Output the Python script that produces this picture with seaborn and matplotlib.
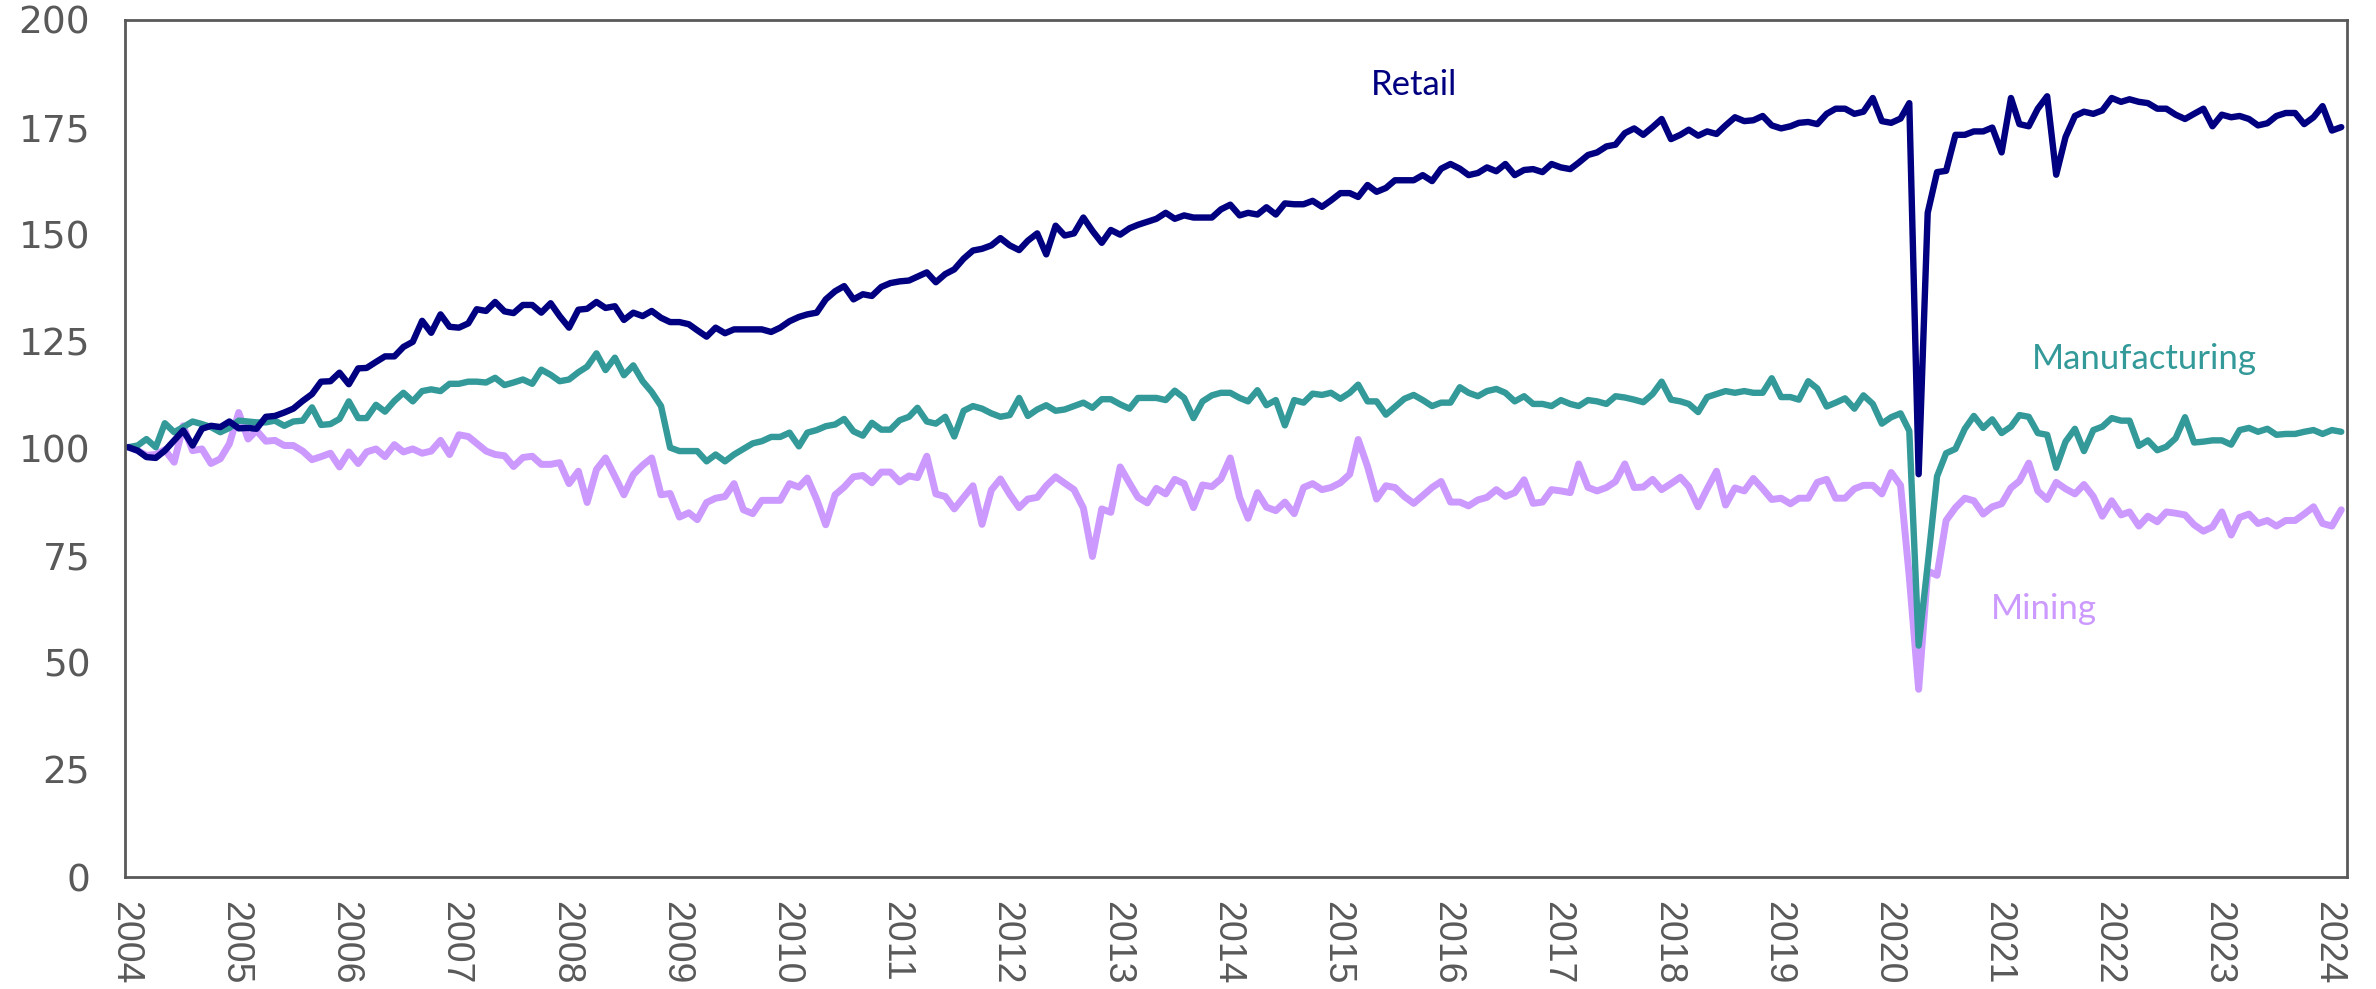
import matplotlib
matplotlib.use("Agg")
import matplotlib.pyplot as plt
import matplotlib.dates as mdates
import seaborn as sns
import pandas as pd

# monthly index values, Jan 2004 - Feb 2024
months = pd.date_range("2004-01-01", periods=242, freq="MS")

retail = [
    100.3, 99.5, 98.0, 97.8, 99.5, 101.9, 104.2, 100.7, 104.6, 105.3, 105.0, 106.3,
    104.7, 104.8, 104.6, 107.4, 107.6, 108.4, 109.3, 111.1, 112.7, 115.6, 115.7, 117.7,
    115.0, 118.7, 118.8, 120.2, 121.5, 121.5, 123.7, 124.9, 129.8, 127.0, 131.3, 128.4,
    128.2, 129.2, 132.5, 132.1, 134.2, 132.0, 131.6, 133.5, 133.5, 131.7, 133.9, 130.9,
    128.2, 132.4, 132.6, 134.2, 132.8, 133.2, 130.0, 131.7, 130.9, 132.1, 130.5, 129.5,
    129.5, 129.0, 127.6, 126.1, 128.2, 126.9, 127.8, 127.8, 127.8, 127.8, 127.2, 128.2,
    129.7, 130.7, 131.3, 131.7, 134.8, 136.7, 137.9, 134.8, 136.0, 135.6, 137.7, 138.6,
    139.0, 139.2, 140.1, 141.1, 138.8, 140.7, 141.8, 144.3, 146.2, 146.6, 147.4, 149.1,
    147.4, 146.3, 148.5, 150.2, 145.3, 152.0, 149.7, 150.2, 153.9, 150.8, 148.0, 151.0,
    149.9, 151.4, 152.2, 152.9, 153.6, 155.0, 153.6, 154.4, 153.9, 153.9, 153.9, 155.8,
    156.9, 154.4, 155.0, 154.6, 156.3, 154.6, 157.2, 157.0, 157.0, 157.8, 156.4, 157.9,
    159.6, 159.6, 158.7, 161.5, 159.9, 160.8, 162.6, 162.6, 162.6, 163.8, 162.4, 165.3,
    166.4, 165.3, 163.8, 164.3, 165.6, 164.7, 166.4, 163.8, 165.0, 165.2, 164.5, 166.4,
    165.6, 165.2, 166.7, 168.5, 169.1, 170.5, 170.9, 173.6, 174.7, 173.2, 175.0, 176.9,
    172.2, 173.2, 174.4, 173.0, 174.0, 173.4, 175.4, 177.3, 176.4, 176.6, 177.6, 175.4,
    174.7, 175.2, 176.0, 176.2, 175.7, 178.1, 179.3, 179.3, 178.1, 178.6, 181.8, 176.4,
    176.0, 177.0, 180.6, 94.0, 155.0, 164.5, 164.8, 173.2, 173.2, 174.0, 174.0, 174.9,
    169.1, 181.8, 175.7, 175.2, 179.3, 182.2, 163.9, 172.7, 177.6, 178.6, 178.1, 178.9,
    181.8, 180.9, 181.5, 180.9, 180.6, 179.3, 179.3, 177.9, 176.9, 178.1, 179.3, 175.2,
    177.9, 177.3, 177.6, 176.9, 175.4, 175.9, 177.6, 178.3, 178.3, 175.7, 177.3, 179.9,
    174.2, 175.0,
]

manufacturing = [
    100.3, 100.7, 102.2, 100.3, 105.9, 103.8, 105.0, 106.3, 105.7, 105.0, 103.8, 104.8,
    106.5, 106.3, 106.1, 106.1, 106.5, 105.3, 106.3, 106.5, 109.6, 105.5, 105.7, 106.9,
    111.0, 107.1, 107.1, 110.2, 108.6, 111.1, 113.0, 111.0, 113.4, 113.8, 113.4, 115.1,
    115.1, 115.6, 115.6, 115.4, 116.5, 114.8, 115.4, 116.1, 115.1, 118.4, 117.2, 115.7,
    116.1, 117.8, 119.1, 122.2, 118.3, 121.2, 117.1, 119.4, 115.7, 113.2, 109.9, 100.2,
    99.4, 99.4, 99.4, 97.0, 98.6, 97.0, 98.6, 99.9, 101.2, 101.7, 102.7, 102.7,
    103.7, 100.5, 103.7, 104.3, 105.2, 105.6, 106.9, 104.0, 103.0, 106.0, 104.4, 104.4,
    106.6, 107.4, 109.5, 106.3, 105.8, 107.4, 102.8, 108.8, 109.9, 109.3, 108.2, 107.4,
    107.8, 111.8, 107.6, 109.1, 110.1, 108.8, 109.1, 109.9, 110.7, 109.5, 111.5, 111.5,
    110.3, 109.3, 111.8, 111.8, 111.8, 111.3, 113.5, 111.8, 107.1, 111.0, 112.4, 113.0,
    113.0, 111.8, 111.0, 113.6, 110.1, 111.3, 105.4, 111.3, 110.7, 112.8, 112.5, 113.0,
    111.6, 113.0, 114.9, 111.0, 111.0, 107.9, 109.7, 111.6, 112.5, 111.3, 109.9, 110.7,
    110.7, 114.3, 113.0, 112.2, 113.4, 113.9, 113.0, 111.0, 112.2, 110.4, 110.4, 109.9,
    111.3, 110.4, 109.9, 111.3, 111.0, 110.4, 112.2, 111.9, 111.4, 110.8, 112.7, 115.6,
    111.4, 111.0, 110.4, 108.5, 112.0, 112.7, 113.4, 113.0, 113.4, 113.0, 113.0, 116.4,
    112.0, 112.0, 111.4, 115.7, 114.0, 109.8, 110.7, 111.7, 109.3, 112.4, 110.4, 105.8,
    107.3, 108.2, 104.1, 54.0, 72.9, 93.5, 98.9, 99.9, 104.6, 107.6, 104.8, 106.8,
    103.6, 105.1, 107.8, 107.4, 103.6, 103.2, 95.5, 101.6, 104.6, 99.4, 104.3, 105.1,
    107.1, 106.5, 106.5, 100.6, 101.9, 99.6, 100.4, 102.4, 107.3, 101.4, 101.6, 101.9,
    101.9, 100.9, 104.3, 104.8, 103.9, 104.6, 103.2, 103.4, 103.4, 103.9, 104.3, 103.4,
    104.3, 103.9,
]

mining = [
    100.3, 99.5, 98.4, 98.6, 99.7, 96.8, 105.3, 99.5, 99.9, 96.5, 97.6, 101.1,
    108.4, 102.2, 104.2, 101.7, 101.9, 100.7, 100.7, 99.4, 97.4, 98.1, 98.9, 95.7,
    99.2, 96.5, 99.2, 99.9, 98.1, 100.9, 99.2, 99.9, 98.9, 99.4, 101.9, 98.6,
    103.2, 102.8, 101.2, 99.4, 98.6, 98.3, 95.8, 97.9, 98.2, 96.3, 96.3, 96.7,
    91.8, 94.7, 87.4, 95.1, 97.8, 93.5, 89.2, 93.9, 96.1, 97.8, 89.2, 89.5,
    84.0, 85.0, 83.4, 87.4, 88.4, 88.8, 91.8, 85.7, 84.8, 87.9, 87.9, 87.9,
    91.8, 91.0, 93.1, 88.1, 82.2, 89.2, 91.0, 93.4, 93.7, 92.0, 94.5, 94.5,
    92.2, 93.6, 93.2, 98.2, 89.4, 88.8, 85.9, 88.6, 91.3, 82.3, 90.3, 92.9,
    89.3, 86.2, 88.2, 88.6, 91.3, 93.4, 91.9, 90.4, 86.1, 74.8, 85.9, 85.1,
    95.7, 91.9, 88.6, 87.3, 90.7, 89.4, 92.8, 91.8, 86.2, 91.5, 91.1, 92.9,
    97.8, 88.6, 83.7, 89.7, 86.3, 85.5, 87.5, 84.8, 90.9, 91.8, 90.4, 90.9,
    92.0, 94.0, 102.1, 95.8, 88.2, 91.3, 90.9, 88.8, 87.2, 89.0, 90.9, 92.3,
    87.5, 87.5, 86.6, 88.0, 88.6, 90.4, 88.8, 89.7, 92.7, 87.2, 87.5, 90.4,
    90.1, 89.7, 96.4, 90.9, 90.1, 90.9, 92.3, 96.4, 90.9, 91.0, 92.8, 90.4,
    91.8, 93.3, 91.1, 86.4, 90.6, 94.7, 86.8, 90.8, 90.1, 93.0, 90.6, 88.1,
    88.4, 87.1, 88.4, 88.4, 92.1, 92.8, 88.4, 88.4, 90.6, 91.4, 91.4, 89.4,
    94.4, 91.4, 70.0, 43.8, 71.4, 70.4, 83.2, 86.2, 88.4, 87.8, 84.7, 86.4,
    87.1, 90.8, 92.4, 96.6, 90.1, 88.1, 92.1, 90.6, 89.4, 91.6, 88.8, 84.2,
    87.8, 84.5, 85.2, 81.9, 84.2, 82.9, 85.2, 84.9, 84.5, 82.2, 80.7, 81.7,
    85.2, 79.8, 83.9, 84.7, 82.5, 83.2, 81.9, 83.2, 83.2, 84.7, 86.4, 82.5,
    81.9, 85.7,
]

df = pd.DataFrame({
    "date": months + pd.Timedelta(days=11),
    "Retail": retail,
    "Manufacturing": manufacturing,
    "Mining": mining,
})

sns.set_style("white")
plt.rcParams["font.family"] = ["Liberation Sans", "DejaVu Sans"]

grey = "#595959"
colors = {"Retail": "#000080", "Manufacturing": "#339999", "Mining": "#cc99ff"}

fig = plt.figure(figsize=(23.76, 9.89), dpi=100)
ax = fig.add_axes([125 / 2376, 112 / 989, (2347 - 125) / 2376, (877 - 20) / 989])

# mining underneath, retail on top
sns.lineplot(data=df, x="date", y="Mining", color=colors["Mining"], linewidth=5.0, ax=ax)
sns.lineplot(data=df, x="date", y="Manufacturing", color=colors["Manufacturing"], linewidth=4.6, ax=ax)
sns.lineplot(data=df, x="date", y="Retail", color=colors["Retail"], linewidth=4.6, ax=ax)

ax.set_xlim(pd.Timestamp("2004-01-01"), pd.Timestamp("2024-03-02"))
ax.set_ylim(0, 200)
ax.set_yticks(range(0, 201, 25))
ax.xaxis.set_major_locator(mdates.YearLocator())
ax.xaxis.set_major_formatter(mdates.DateFormatter("%Y"))
ax.set_xlabel("")
ax.set_ylabel("")

for sp in ax.spines.values():
    sp.set_visible(True)
    sp.set_color(grey)
    sp.set_linewidth(2)

ax.tick_params(axis="y", direction="in", length=9, width=2, color=grey,
               pad=25, labelsize=27, labelcolor=grey)
ax.tick_params(axis="x", direction="inout", length=16, width=2, color=grey,
               pad=9, labelsize=27, labelcolor=grey)
for lab in ax.get_yticklabels():
    lab.set_fontfamily("DejaVu Sans")
for lab in ax.get_xticklabels():
    lab.set_rotation(270)
    lab.set_ha("center")
    lab.set_va("top")


def at(m):
    return pd.Timestamp("2004-01-01") + pd.Timedelta(days=m * 30.44)


ax.text(at(140.4), 184.8, "Retail", color=colors["Retail"], fontsize=25,
        family="Lato", ha="center", va="center")
ax.text(at(219.9), 120.8, "Manufacturing", color=colors["Manufacturing"], fontsize=25,
        family="Lato", ha="center", va="center")
ax.text(at(209.0), 62.6, "Mining", color=colors["Mining"], fontsize=25,
        family="Lato", ha="center", va="center")

fig.savefig("out.png", dpi=100)
